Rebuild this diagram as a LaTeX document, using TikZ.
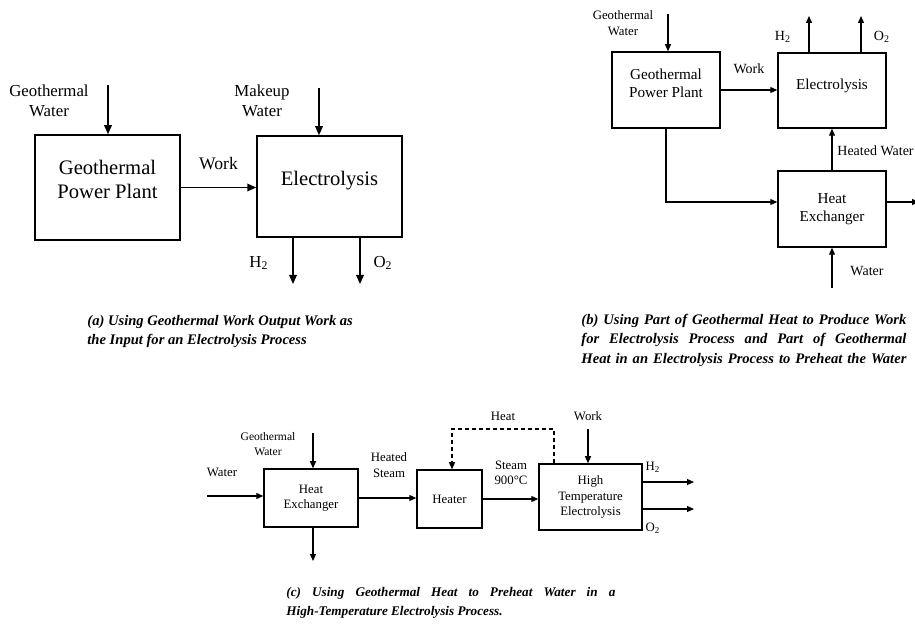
\documentclass[tikz,border=0pt]{standalone}
\usepackage{fontspec}
\setmainfont{Liberation Serif}
\usetikzlibrary{arrows.meta, positioning}

\begin{document}
\begin{tikzpicture}[x=0.5pt, y=-0.5pt,
    box/.style={draw, line width=0.75pt, align=center, inner sep=0pt},
    flow/.style={-{Triangle[length=4.5pt, width=3.8pt]}, line width=0.75pt},
    flowS/.style={-{Triangle[length=3.5pt, width=3pt]}, line width=0.6pt},
    txt/.style={align=center, inner sep=0pt},
    captxt/.style={align=left, inner sep=0pt, anchor=north west,
      font=\fontsize{7.3}{9.6}\selectfont\bfseries\itshape}]
    \useasboundingbox (0,0) rectangle (915,624);
    \clip (0,0) rectangle (915,624);

    % (a) work output to electrolysis
    \node[box, minimum width=72.5pt, minimum height=52.5pt, text depth=8.5pt,
      font=\fontsize{10.3}{12}\selectfont] (gppA) at (107.5,187.5) {Geothermal\\Power Plant};
    \node[box, minimum width=72.5pt, minimum height=50.5pt, text depth=8.5pt,
      font=\fontsize{10.3}{12}\selectfont] (elecA) at (329.5,186.5) {Electrolysis};
    \begin{scope}[font=\fontsize{8.4}{10}\selectfont]
      \node[txt] (gwAt) at (49,101) {Geothermal\\Water};
      \node[txt] (mwAt) at (262,101) {Makeup\\Water};
      \node[txt] (h2At) at (259,263) {H\textsubscript{2}};
      \node[txt] (o2At) at (383,263) {O\textsubscript{2}};
    \end{scope}
    \coordinate (gwA) at (108,85);
    \coordinate (mwA) at (319,88);
    \coordinate (h2A) at (293,284);
    \coordinate (o2A) at (360,284);
    \draw[flow] (gwA) -- (gwA |- gppA.north);
    \draw[flow] (mwA) -- (mwA |- elecA.north);
    \draw[flow] (gppA.east) -- (gppA.east -| elecA.west)
      node[midway, above=5pt, font=\fontsize{8.8}{10}\selectfont] (workA) {Work};
    \draw[flow] (h2A |- elecA.south) -- (h2A);
    \draw[flow] (o2A |- elecA.south) -- (o2A);
    \node[captxt] (capA) at (87,315) {(a) Using Geothermal Work Output Work as\\the Input for an Electrolysis Process};

    % (b) part of the heat preheats the water
    \node[box, minimum width=54pt, minimum height=38pt, text depth=6.5pt,
      font=\fontsize{7.6}{9.2}\selectfont] (gppB) at (666,90) {Geothermal\\Power Plant};
    \node[box, minimum width=54pt, minimum height=37.5pt, text depth=6.5pt,
      font=\fontsize{7.6}{9.2}\selectfont] (elecB) at (832,90.5) {Electrolysis};
    \node[box, minimum width=54pt, minimum height=38pt,
      font=\fontsize{7.6}{9.2}\selectfont] (heB) at (832,209) {Heat\\Exchanger};
    \begin{scope}[font=\fontsize{7}{8.4}\selectfont]
      \node[txt, font=\fontsize{6.4}{8}\selectfont] (gwBt) at (623,23) {Geothermal\\Water};
      \node[txt] (h2Bt) at (783,37) {H\textsubscript{2}};
      \node[txt] (o2Bt) at (882,37) {O\textsubscript{2}};
      \node[txt, anchor=west] (hwBt) at (837,151) {Heated Water};
      \node[txt] (wBt) at (867,271) {Water};
    \end{scope}
    \coordinate (gwB) at (668,14);
    \coordinate (h2B) at (809,16);
    \coordinate (o2B) at (861,16);
    \coordinate (wB) at (832,288);
    \coordinate (outB) at (919,202);
    \draw[flowS] (gwB) -- (gwB |- gppB.north);
    \draw[flowS] (gppB.east) -- (gppB.east -| elecB.west)
      node[midway, above=4.5pt, font=\fontsize{7}{8.4}\selectfont] (workB) {Work};
    \draw[flowS] (h2B |- elecB.north) -- (h2B);
    \draw[flowS] (o2B |- elecB.north) -- (o2B);
    \draw[flowS] (heB.north) -- (elecB.south);
    \draw[flowS] (gppB.south) |- ([yshift=3.5pt]heB.west);
    \draw[flowS] (outB -| heB.east) -- (outB);
    \draw[flowS] (wB) -- (heB.south);
    \node[captxt] (capB) at (581,314)
      {\makebox[162.5pt][s]{(b) Using Part of Geothermal Heat to Produce Work}\\
       \makebox[162.5pt][s]{for Electrolysis Process and Part of Geothermal}\\
       \makebox[162.5pt][s]{Heat in an Electrolysis Process to Preheat the Water}};

    % (c) high-temperature electrolysis
    \begin{scope}[font=\fontsize{6.4}{7.7}\selectfont]
      \node[box, minimum width=47pt, minimum height=29pt] (heC) at (311,498) {Heat\\Exchanger};
      \node[box, minimum width=32.5pt, minimum height=29pt] (heaterC) at (449.5,499) {Heater};
      \node[box, minimum width=51.5pt, minimum height=33pt] (hteC) at (590.5,497) {High\\Temperature\\Electrolysis};
      \node[txt] (wCt) at (222,472) {Water};
      \node[txt, font=\fontsize{5.8}{7.4}\selectfont] (gwCt) at (268,444) {Geothermal\\Water};
      \node[txt] (hsCt) at (389,465) {Heated\\Steam};
      \node[txt] (stCt) at (511,473) {Steam\\900°C};
      \node[txt] (heatCt) at (503,416) {Heat};
      \node[txt] (workCt) at (588,416) {Work};
      \node[txt] (h2Ct) at (653,467) {H\textsubscript{2}};
      \node[txt] (o2Ct) at (653,528) {O\textsubscript{2}};
    \end{scope}
    \coordinate (wC) at (207,496);
    \coordinate (gwC) at (313,433);
    \coordinate (outC) at (313,561);
    \coordinate (dashR) at (554,429);
    \coordinate (dashL) at (452,429);
    \coordinate (workC) at (588,429);
    \coordinate (h2C) at (694,482);
    \coordinate (o2C) at (694,509);
    \draw[flowS] (wC) -- (wC -| heC.west);
    \draw[flowS] (gwC) -- (gwC |- heC.north);
    \draw[flowS] (outC |- heC.south) -- (outC);
    \draw[flowS] (heC.east) -- (heC.east -| heaterC.west);
    \draw[flowS] (heaterC.east) -- (heaterC.east -| hteC.west);
    \draw[flowS, dashed, dash pattern=on 2pt off 1.5pt] (dashR |- hteC.north) -- (dashR) -- (dashL) -- (dashL |- heaterC.north);
    \draw[flowS] (workC) -- (workC |- hteC.north);
    \draw[flowS] (h2C -| hteC.east) -- (h2C);
    \draw[flowS] (o2C -| hteC.east) -- (o2C);
    \node[captxt, font=\fontsize{6.6}{9.4}\selectfont\bfseries\itshape] (capC) at (286,587)
      {\makebox[164.5pt][s]{(c) Using Geothermal Heat to Preheat Water in a}\\
       High-Temperature Electrolysis Process.};
\end{tikzpicture}
\end{document}
